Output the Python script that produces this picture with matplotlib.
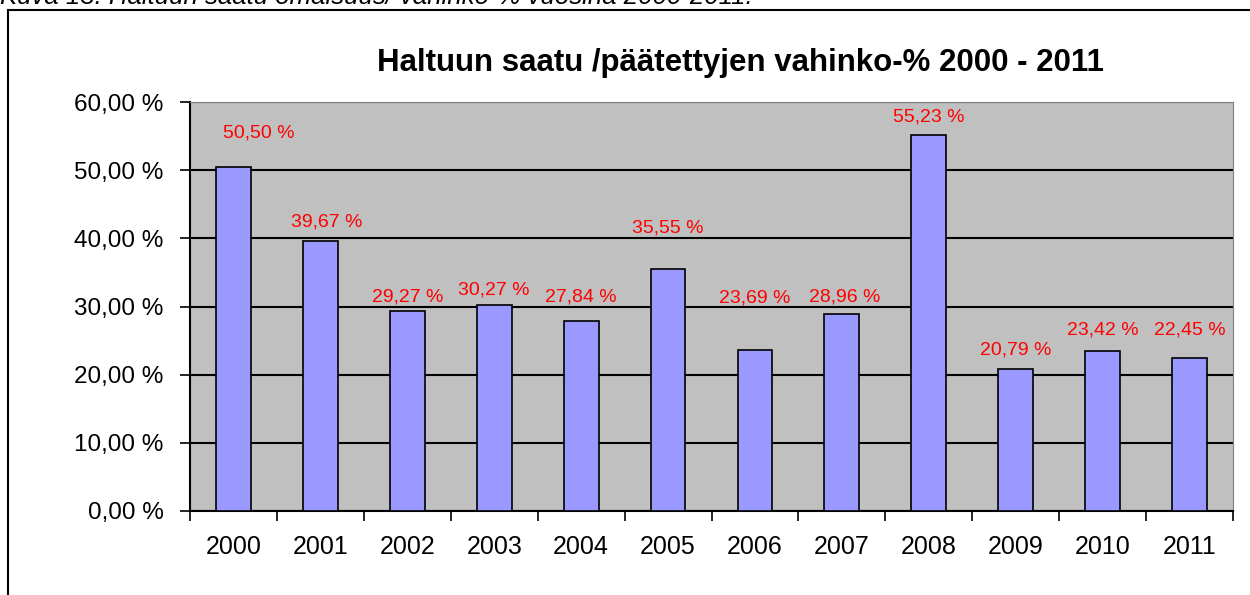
import matplotlib
matplotlib.use("Agg")
import matplotlib.pyplot as plt
from matplotlib.lines import Line2D

plt.rcParams['font.family'] = ['Liberation Sans', 'DejaVu Sans']

# data
years = ["2000", "2001", "2002", "2003", "2004", "2005",
         "2006", "2007", "2008", "2009", "2010", "2011"]
values = [50.50, 39.67, 29.27, 30.27, 27.84, 35.55,
          23.69, 28.96, 55.23, 20.79, 23.42, 22.45]
value_labels = ["50,50 %", "39,67 %", "29,27 %", "30,27 %", "27,84 %", "35,55 %",
                "23,69 %", "28,96 %", "55,23 %", "20,79 %", "23,42 %", "22,45 %"]
yticks = [0, 10, 20, 30, 40, 50, 60]
ytick_labels = ["0,00 %", "10,00 %", "20,00 %", "30,00 %", "40,00 %", "50,00 %", "60,00 %"]

# label placement (moved by hand in the original)
label_y = [55.4, 42.4, 31.4, 32.4, 31.4, 41.5, 31.2, 31.4, 57.8, 23.6, 26.5, 26.5]
label_dx = [0.29, 0.07, 0, 0, 0, 0, 0, 0.03, 0, 0, 0, 0]

fig = plt.figure(figsize=(12.5, 5.95), dpi=100)
fig.patch.set_facecolor("white")

# outer chart frame (left and top edges visible)
fig.add_artist(Line2D([8/1250, 8/1250], [0, 1 - 10/595], color="black", lw=1.5))
fig.add_artist(Line2D([8/1250, 1], [1 - 10/595, 1 - 10/595], color="black", lw=1.5))

# caption, cut off at the top like in the source
fig.text(0.0, 1 - 4/595, "Kuva 13. Haltuun saatu omaisuus/ vahinko-% vuosina 2000-2011.",
         ha="left", va="baseline", fontsize=18.5, style="italic")

ax = fig.add_axes([190/1250, 84/595, (1233-190)/1250, (511-102)/595])
ax.set_facecolor("#C0C0C0")

x = list(range(len(years)))
ax.bar(x, values, width=0.4, color="#9999FF", edgecolor="black", linewidth=1.2, zorder=3)

for i in x:
    ax.text(i + label_dx[i], label_y[i], value_labels[i], ha="center", va="center",
            color="#FF0000", fontsize=14, zorder=4)

ax.set_xlim(-0.5, len(years) - 0.5)
ax.set_ylim(0, 60)
ax.set_yticks(yticks)
ax.set_yticklabels(ytick_labels, fontsize=17.5)
ax.set_xticks(x)
ax.set_xticklabels(years, fontsize=18)
ax.set_xticks([i - 0.5 for i in range(len(years) + 1)], minor=True)
ax.tick_params(axis="x", which="major", length=0, pad=17)
ax.tick_params(axis="x", which="minor", length=7, width=1.2, direction="out")
ax.tick_params(axis="y", length=7, width=1.2, direction="out", pad=12)

ax.grid(axis="y", color="black", linewidth=1.5, zorder=1)
ax.set_axisbelow(True)
for s in ["top", "right"]:
    ax.spines[s].set_color("#808080")
for s in ["left", "bottom"]:
    ax.spines[s].set_color("black")
    ax.spines[s].set_linewidth(1.5)

fig.text(740/1250, 1 - 63/595, "Haltuun saatu /päätettyjen vahinko-% 2000 - 2011",
         ha="center", va="center", fontsize=22.5, fontweight="bold")

fig.savefig("out.png", dpi=100)
